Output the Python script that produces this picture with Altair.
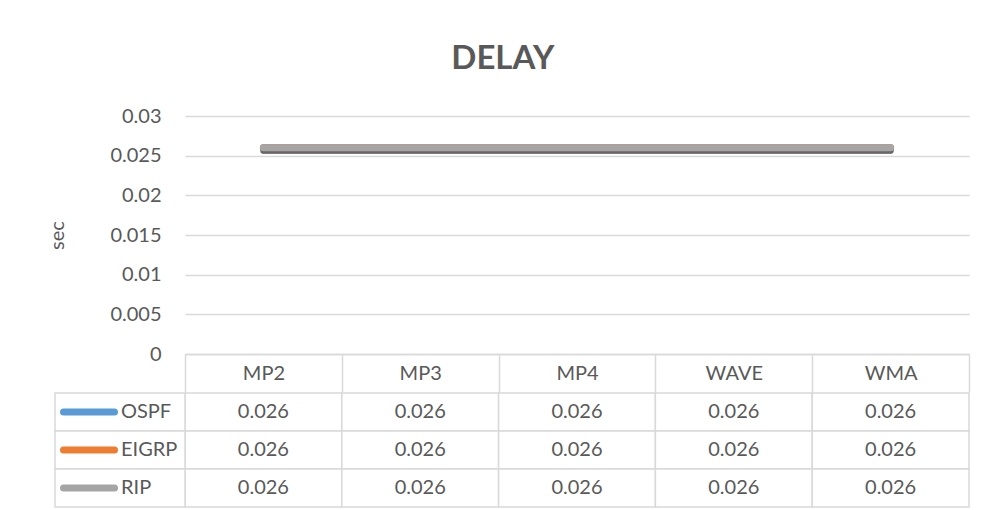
import altair as alt
import pandas as pd

# ---------------- data ----------------
categories = ["MP2", "MP3", "MP4", "WAVE", "WMA"]
series = ["OSPF", "EIGRP", "RIP"]
ospf = [0.026, 0.026, 0.026, 0.026, 0.026]
eigrp = [0.026, 0.026, 0.026, 0.026, 0.026]
rip = [0.026, 0.026, 0.026, 0.026, 0.026]
colors = ["#5B9BD5", "#ED7D31", "#A5A5A5"]
y_ticks = [0, 0.005, 0.01, 0.015, 0.02, 0.025, 0.03]

rows = []
for s, vals in zip(series, [ospf, eigrp, rip]):
    for c, v in zip(categories, vals):
        rows.append({"series": s, "cat": c, "value": v})
df = pd.DataFrame(rows)
legend_df = pd.DataFrame({"series": series})

# ---------------- style ----------------
FONT = "Lato"
GRID = "#D9D9D9"
TEXT = "#595959"
FS = 20

xscale = alt.Scale(domain=categories, paddingInner=0, paddingOuter=0)
color_scale = alt.Scale(domain=series, range=colors)
row_scale = alt.Scale(domain=series, paddingInner=0, paddingOuter=0)
# legend column of the data table: 130 px wide, left of the plot area
leg_scale = alt.Scale(domain=[0, 130], range=[-130, 0], nice=False, zero=False)

x_axis = alt.Axis(
    orient="bottom", title=None, labelAngle=0,
    domain=True, domainColor=GRID, domainWidth=1.5,
    ticks=True, tickBand="extent", tickSize=38, tickColor=GRID, tickWidth=1.5,
    labelPadding=-19, labelBaseline="middle", labelFont=FONT,
    labelFontSize=FS, labelColor=TEXT, grid=False,
)
y_axis = alt.Axis(
    values=y_ticks, format="~g", grid=True, gridColor=GRID, gridWidth=1.5,
    domain=False, ticks=False, labelPadding=24, labelFont=FONT,
    labelFontSize=FS, labelColor=TEXT,
    title="sec", titleFont=FONT, titleFontSize=FS, titleFontWeight="normal",
    titleColor=TEXT, titlePadding=42,
)

# ---------------- top: line chart ----------------
line_layers = []
for s, col in zip(series, colors):
    base = alt.Chart(df).transform_filter(alt.datum.series == s)
    shadow = base.mark_line(strokeWidth=6, strokeCap="round", color="#4A4A4A", opacity=0.45).encode(
        x=alt.X("cat:N", scale=xscale, sort=categories, axis=x_axis),
        y=alt.Y("value:Q", scale=alt.Scale(domain=[0, 0.03]), axis=y_axis),
        yOffset=alt.value(3),
    )
    line = base.mark_line(strokeWidth=7, strokeCap="round", color=col).encode(
        x=alt.X("cat:N", scale=xscale, sort=categories, axis=x_axis),
        y=alt.Y("value:Q", scale=alt.Scale(domain=[0, 0.03]), axis=y_axis),
    )
    line_layers += [shadow, line]

top = alt.layer(*line_layers).properties(width=784, height=238)

# ---------------- bottom: data table ----------------
cells = alt.Chart(df).mark_rect(fill="white", stroke=GRID, strokeWidth=1.5).encode(
    x=alt.X("cat:N", scale=xscale, sort=categories, axis=None),
    y=alt.Y("series:N", scale=row_scale, axis=None),
)
values = alt.Chart(df).mark_text(font=FONT, fontSize=FS, color=TEXT).encode(
    x=alt.X("cat:N", scale=xscale, sort=categories, axis=None),
    y=alt.Y("series:N", scale=row_scale, axis=None),
    text=alt.Text("value:Q", format=".3f"),
)
leg_base = alt.Chart(legend_df).transform_calculate(
    c0="0", c1="130", s0="8.5", s1="59.5", lab="66"
)
leg_cells = leg_base.mark_rect(fill="white", stroke=GRID, strokeWidth=1.5).encode(
    x=alt.X("c0:Q", scale=leg_scale, axis=None),
    x2="c1:Q",
    y=alt.Y("series:N", scale=row_scale, axis=None),
)
leg_swatch = leg_base.mark_rule(strokeWidth=7, strokeCap="round").encode(
    x=alt.X("s0:Q", scale=leg_scale, axis=None),
    x2="s1:Q",
    y=alt.Y("series:N", scale=row_scale, axis=None),
    color=alt.Color("series:N", scale=color_scale, legend=None),
)
leg_label = leg_base.mark_text(font=FONT, fontSize=FS, color=TEXT, align="left").encode(
    x=alt.X("lab:Q", scale=leg_scale, axis=None),
    y=alt.Y("series:N", scale=row_scale, axis=None),
    text="series:N",
)
bottom = alt.layer(cells, values, leg_cells, leg_swatch, leg_label).resolve_scale(
    x="independent"
).properties(width=784, height=114)

chart = alt.vconcat(top, bottom, spacing=-6).properties(
    title=alt.TitleParams("DELAY", font=FONT, fontSize=33, fontWeight="bold",
                          color=TEXT, anchor="middle", offset=30, dx=-6),
    padding={"left": 39, "top": 35, "right": 5, "bottom": 5},
    background="white",
).configure_view(stroke="transparent", strokeWidth=0)

chart.save("out.html", embed_options={"renderer": "svg", "actions": False})
